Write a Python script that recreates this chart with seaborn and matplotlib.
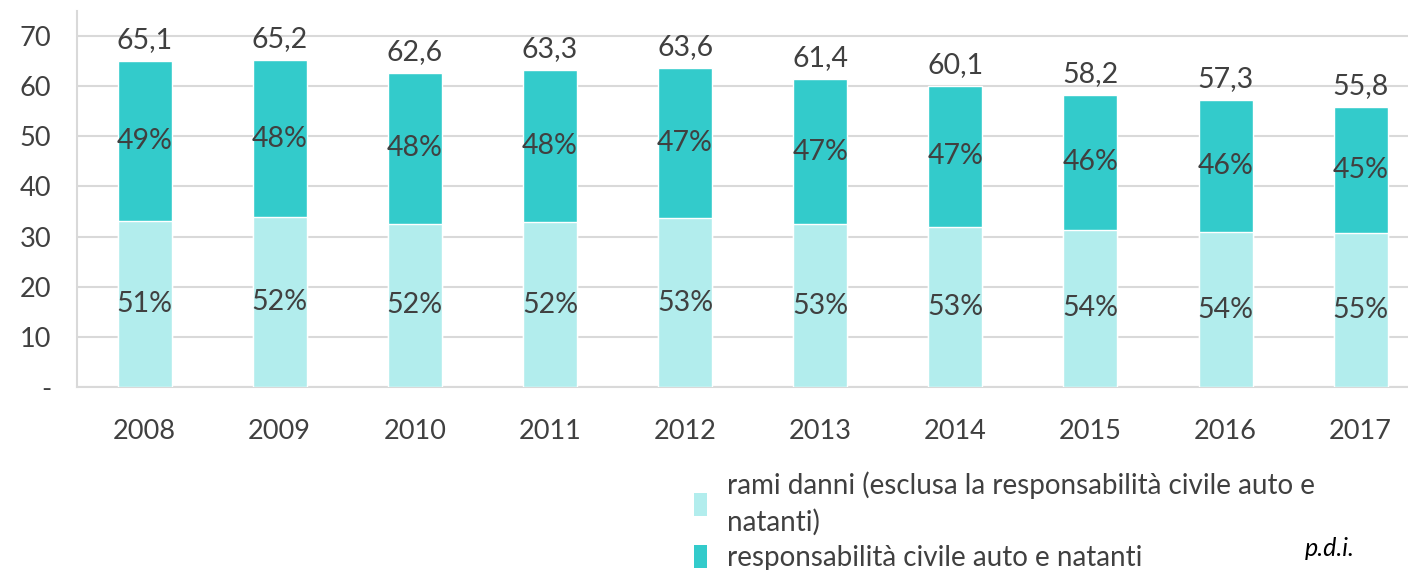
import numpy as np
import pandas as pd
import seaborn as sns
import matplotlib.pyplot as plt
from matplotlib.patches import Patch

# dati (miliardi di euro)
anni = ["2008", "2009", "2010", "2011", "2012", "2013", "2014", "2015", "2016", "2017"]
rami_danni = [33.2, 33.9, 32.6, 32.9, 33.7, 32.5, 31.9, 31.4, 30.9, 30.7]
rc_auto = [31.9, 31.3, 30.0, 30.4, 29.9, 28.9, 28.2, 26.8, 26.4, 25.1]
pct_rami = ["51%", "52%", "52%", "52%", "53%", "53%", "53%", "54%", "54%", "55%"]
pct_rc = ["49%", "48%", "48%", "48%", "47%", "47%", "47%", "46%", "46%", "45%"]
etichette_tot = ["65,1", "65,2", "62,6", "63,3", "63,6", "61,4", "60,1", "58,2", "57,3", "55,8"]
yticks = [0, 10, 20, 30, 40, 50, 60, 70]
ytick_labels = ["-", "10", "20", "30", "40", "50", "60", "70"]

sns.set_style("white")
plt.rcParams['font.family'] = ['Lato', 'DejaVu Sans']

col_chiaro = "#B2EDED"
col_scuro = "#33CBCB"
testo = "#404040"
griglia = "#D9D9D9"

df = pd.DataFrame({"anno": anni, "rami": rami_danni, "rc": rc_auto})
df["totale"] = df["rami"] + df["rc"]

fig = plt.figure(figsize=(14.08, 5.70), dpi=100)
ax = fig.add_axes([77 / 1408, 1 - 387 / 570, 1 - 77 / 1408, (387 - 11) / 570])

# barre impilate: totale scuro sotto, rami danni chiaro sopra
sns.barplot(data=df, x="anno", y="totale", color=col_scuro, width=0.4,
            saturation=1, ax=ax, zorder=2)
sns.barplot(data=df, x="anno", y="rami", color=col_chiaro, width=0.4,
            saturation=1, ax=ax, zorder=3)

for i in range(len(anni)):
    ax.text(i, rami_danni[i] / 2, pct_rami[i], ha="center", va="center",
            fontsize=20.5, color=testo, zorder=4)
    ax.text(i, rami_danni[i] + rc_auto[i] / 2, pct_rc[i], ha="center", va="center",
            fontsize=20.5, color=testo, zorder=4)
    ax.text(i, rami_danni[i] + rc_auto[i] + 1.6, etichette_tot[i], ha="center",
            va="bottom", fontsize=20.5, color=testo, zorder=4)

ax.set_ylim(0, 75)
ax.set_xlim(-0.5, 9.35)
ax.set_yticks(yticks)
ax.set_yticklabels(ytick_labels)
ax.set_xlabel("")
ax.set_ylabel("")
ax.yaxis.grid(True, color=griglia, linewidth=1.5, zorder=0)
ax.set_axisbelow(True)

for s in ["top", "right"]:
    ax.spines[s].set_visible(False)
for s in ["left", "bottom"]:
    ax.spines[s].set_color(griglia)
    ax.spines[s].set_linewidth(1.5)

ax.tick_params(axis="y", length=6.5, width=1.5, color=griglia, pad=12,
               labelsize=19.5, labelcolor=testo)
ax.tick_params(axis="x", which="major", length=0, pad=23,
               labelsize=19.5, labelcolor=testo)
ax.set_xticks(np.arange(-0.5, 9.5, 1), minor=True)
ax.tick_params(axis="x", which="minor", length=7, width=1.5, color=griglia)

handles = [Patch(facecolor=col_chiaro, edgecolor="none"),
           Patch(facecolor=col_scuro, edgecolor="none")]
labels = ["rami danni (esclusa la responsabilità civile auto e\nnatanti)",
          "responsabilità civile auto e natanti"]
leg = fig.legend(handles, labels, loc="upper left",
                 bbox_to_anchor=(683 / 1408, 1 - 460 / 570),
                 frameon=False, fontsize=20, labelcolor=testo, handlelength=0.45,
                 handleheight=0.9, handletextpad=0.75, labelspacing=0.35,
                 borderaxespad=0)
leg.get_texts()[0].set_linespacing(1.45)

fig.text(1305 / 1408, 1 - 548 / 570, "p.d.i.", fontsize=18, style="italic",
         color="black", ha="left", va="center")

fig.savefig("out.png", dpi=100)
